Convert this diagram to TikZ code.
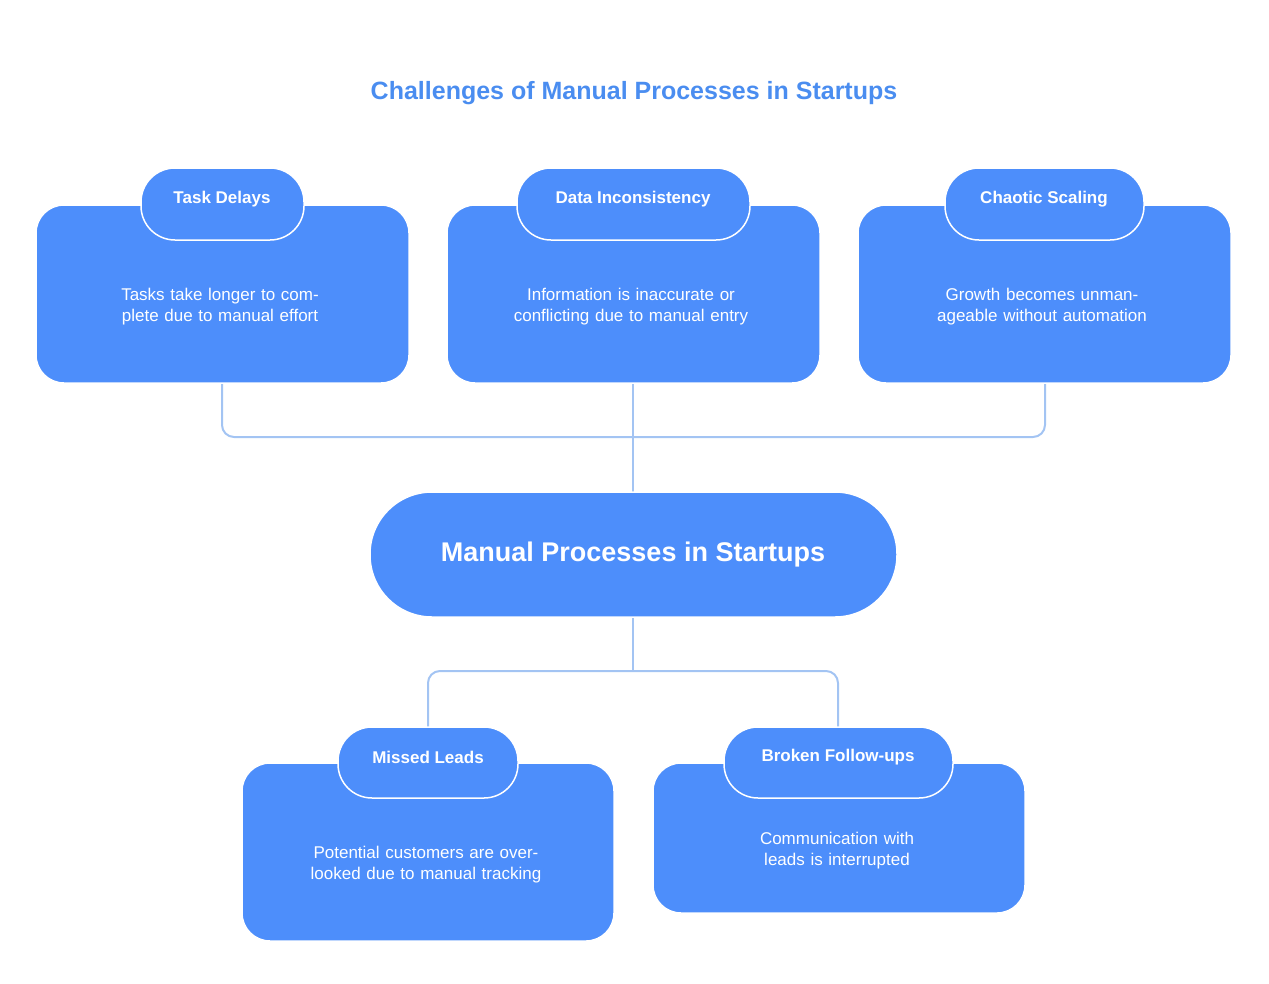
\documentclass[tikz,border=0pt]{standalone}
\usepackage{fontspec}
\setmainfont{Liberation Sans}
\begin{document}
\begin{tikzpicture}[x=1pt,y=-1pt,
  box/.style={draw=white,line width=1.5pt,fill=bfill,rounded corners=28pt},
  pill/.style={draw=white,line width=1.5pt,fill=bfill,rounded corners=34pt},
  body/.style={text=white,align=center,font=\fontsize{17}{21}\selectfont,text width=260pt},
  ptext/.style={text=white,font=\bfseries\fontsize{17}{20}\selectfont},
  conn/.style={draw=lfill,line width=2pt,rounded corners=12pt}]
\definecolor{bfill}{HTML}{4D8EFB}
\definecolor{lfill}{HTML}{A3C4F3}
\definecolor{tcol}{HTML}{4A8DF0}
\useasboundingbox (0,0) rectangle (1269,983);
% connectors
\coordinate (b1) at (222,383); \coordinate (b3) at (1045,383);
\coordinate (c1) at (633,383); \coordinate (ct) at (633,492);
\coordinate (cb) at (633,617);
\coordinate (p4) at (428,727); \coordinate (p5) at (838,727);
\draw[conn] (b1) -- (222,437) -- (1045,437) -- (b3);
\draw[conn] (c1) -- (ct);
\draw[conn] (cb) -- (633,671);
\draw[conn] (p4) -- (428,671) -- (838,671) -- (p5);
\node[text=tcol,font=\bfseries\fontsize{25}{30}\selectfont] (title) at (634,93) {Challenges of Manual Processes in Startups};
% top boxes
\draw[box] (36,205) rectangle (409,383);
\draw[pill] (141,168) rectangle (304,240);
\node[ptext] (t1) at (222,199) {Task Delays};
\node[body] (d1) at (220,307) {Tasks take longer to complete due to manual effort};
\draw[box] (447,205) rectangle (820,383);
\draw[pill] (517,168) rectangle (750,240);
\node[ptext] (t2) at (633,199) {Data Inconsistency};
\node[body] (d2) at (631,307) {Information is inaccurate or conflicting due to manual entry};
\draw[box] (858,205) rectangle (1231,383);
\draw[pill] (945,168) rectangle (1144,240);
\node[ptext] (t3) at (1044,199) {Chaotic Scaling};
\node[body] (d3) at (1042,307) {Growth becomes unmanageable without automation};
% center
\draw[box,rounded corners=62pt] (370,492) rectangle (897,617);
\node[text=white,font=\bfseries\fontsize{27}{32}\selectfont] (c) at (633,555) {Manual Processes in Startups};
% bottom
\draw[box] (242,763) rectangle (614,941);
\draw[pill] (338,727) rectangle (518,798);
\node[ptext] (t4) at (428,757) {Missed Leads};
\node[body] (d4) at (426,865) {Potential customers are overlooked due to manual tracking};
\draw[box] (653,763) rectangle (1025,913);
\draw[pill] (724,727) rectangle (953,798);
\node[ptext] (t5) at (838,757) {Broken Follow-ups};
\node[body] (d5) at (837,851) {Communication with leads is interrupted};
\end{tikzpicture}
\end{document}
